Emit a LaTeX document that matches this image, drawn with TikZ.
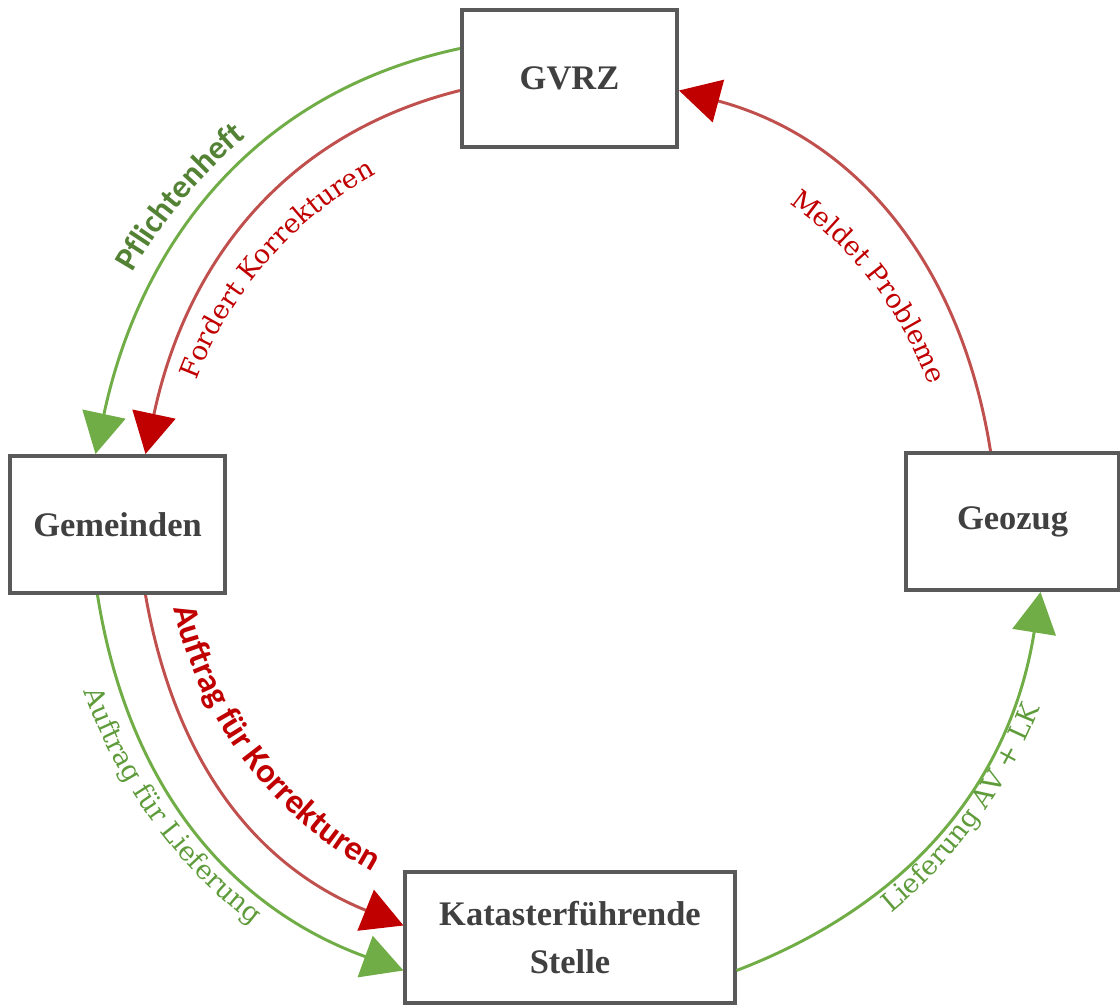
\documentclass[tikz,border=0pt]{standalone}
\usepackage{xcolor}
\usepackage{fontspec}
\setmainfont{Liberation Serif}
\newfontfamily\labelserif{DejaVu Serif}
\newfontfamily\labelsans{Carlito}
\usepackage{tikz}
\usetikzlibrary{arrows.meta,positioning,calc,decorations.text}
\definecolor{boxgray}{HTML}{595959}
\definecolor{boxtext}{HTML}{404040}
\definecolor{linegreen}{HTML}{70AD47}
\definecolor{linered}{HTML}{C0504D}
\definecolor{headred}{HTML}{C00000}
\definecolor{textgreen}{HTML}{5E9B3A}
\definecolor{darkgreen}{HTML}{548235}
\newcommand\lblsans[1]{\labelsans\bfseries\fontsize{#1}{28}\selectfont}
\newcommand\lblserif{\labelserif\fontsize{19}{23}\selectfont}

\begin{document}
\begin{tikzpicture}[
					x = 0.025cm, y = 0.025cm,
					box/.style = {draw = boxgray, line width = 2.85pt, fill = white, text = boxtext,
						font = \fontsize{24.5}{34}\selectfont\bfseries, align = center,
						minimum width = 5.375cm, minimum height = 3.425cm, inner sep = 0pt},
					grn/.style = {draw = linegreen, line width = 2.1pt,
						-{Triangle[length=29pt,width=31pt,color=linegreen]}},
					rd/.style = {draw = linered, line width = 2.1pt,
						-{Triangle[length=29pt,width=31pt,color=headred]}},
					lbl/.style = {decorate, decoration = {text along path, text align = center, text = {#1}}}
					]

					\def\rinner{394}
					\def\router{511}

					\useasboundingbox (0,0) rectangle (1120,-1005);
					\coordinate (ctr) at (565,-520);

					\node[box] (gvrz) at (569.5,-78.5) {GVRZ};
					\node[box] (gemeinden) at (117.5,-524.5) {Gemeinden};
					\node[box, minimum width = 5.325cm] (geozug) at (1012.5,-521.5) {Geozug};
					\node[box, minimum width = 8.225cm, minimum height = 3.275cm] (kataster) at (570,-937.5) {Katasterführende\\Stelle};

					\draw[grn] ($(gvrz.west)+(0,30)$) to[out=192,in=78] ($(gemeinden.north)+(-22,0)$);
					\draw[rd] ($(gvrz.west)+(0,-12)$) to[out=194,in=78] ($(gemeinden.north)+(28,0)$);
					\draw[grn] ($(gemeinden.south)+(-20,0)$) to[out=279,in=160] ($(kataster.west)+(0,-33)$);
					\draw[rd] ($(gemeinden.south)+(28,0)$) to[out=280,in=158] ($(kataster.west)+(0,12)$);
					\draw[grn] ($(kataster.east)+(0,-33)$) to[out=21,in=261] ($(geozug.south)+(28,0)$);
					\draw[rd] ($(geozug.north)+(-22,0)$) to[out=99,in=345] ($(gvrz.east)+(0,-12)$);

					\path[lbl = {|\lblsans{23.5}\color{darkgreen}|Pflichtenheft}] ($(ctr)+(165:498)$) arc[start angle=165, end angle=115, radius=498];
					\path[lbl = {|\lblserif\color{headred}|Fordert Korrekturen}] ($(ctr)+(174:\rinner)$) arc[start angle=174, end angle=104, radius=\rinner];
					\path[lbl = {|\lblserif\color{headred}|Meldet Probleme}] ($(ctr)+(70:388)$) arc[start angle=70, end angle=5, radius=388];
					\path[lbl = {|\lblsans{24.5}\color{headred}|Auftrag für Korrekturen}] ($(ctr)+(182:401)$) arc[start angle=182, end angle=252, radius=401];
					\path[lbl = {|\lblserif\color{textgreen}|Auftrag für Lieferung}] ($(ctr)+(186:\router)$) arc[start angle=186, end angle=246, radius=\router];
					\path[lbl = {|\lblserif\color{textgreen}|Lieferung AV + LK}] ($(ctr)+(296:\router)$) arc[start angle=296, end angle=352, radius=\router];

				\end{tikzpicture}
\end{document}
